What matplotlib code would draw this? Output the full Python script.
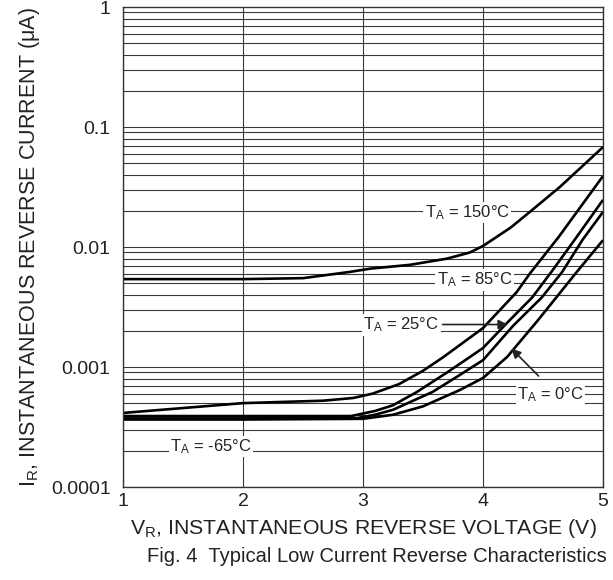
import matplotlib
matplotlib.use("Agg")
import matplotlib.pyplot as plt
import numpy as np

plt.rcParams['font.family'] = ['Liberation Sans', 'DejaVu Sans']
plt.rcParams['mathtext.fontset'] = 'custom'
plt.rcParams['mathtext.rm'] = 'Liberation Sans'
plt.rcParams['mathtext.it'] = 'Liberation Sans:italic'

# ---- data ----
v_150 = [1.0, 2.0, 2.5, 2.89, 3.06, 3.39, 3.7, 3.89, 4.0, 4.23, 4.39, 4.64, 5.0]
i_150 = [0.0054, 0.0054, 0.0055, 0.0062, 0.0066, 0.0071, 0.0080, 0.0090, 0.0102, 0.0145, 0.0196, 0.0316, 0.068]

v_85 = [1.0, 2.0, 2.67, 2.92, 3.08, 3.3, 3.5, 3.67, 4.0, 4.28, 4.39, 4.63, 5.0]
i_85 = [0.000414, 0.00050, 0.000524, 0.000552, 0.000600, 0.00072, 0.00093, 0.00121, 0.00211, 0.00420, 0.0060, 0.0121, 0.039]

v_25 = [1.0, 2.0, 2.9, 3.1, 3.25, 3.45, 3.7, 3.89, 4.0, 4.2, 4.41, 4.58, 4.78, 5.0]
i_25 = [0.00039, 0.00039, 0.00039, 0.00043, 0.00048, 0.00062, 0.00090, 0.00121, 0.00144, 0.00233, 0.00380, 0.0064, 0.0121, 0.0247]

v_0 = [1.0, 2.0, 2.95, 3.1, 3.25, 3.58, 3.8, 4.0, 4.25, 4.49, 4.66, 4.83, 5.0]
i_0 = [0.000373, 0.000373, 0.000375, 0.00040, 0.00044, 0.00062, 0.00085, 0.00114, 0.00220, 0.00380, 0.0062, 0.0115, 0.0196]

v_m65 = [1.0, 2.0, 3.0, 3.25, 3.5, 3.81, 4.0, 4.2, 4.45, 4.62, 4.77, 5.0]
i_m65 = [0.000365, 0.000365, 0.00037, 0.000400, 0.00047, 0.000645, 0.00081, 0.00121, 0.0024, 0.0039, 0.0060, 0.0114]

x_ticks = [1, 2, 3, 4, 5]
y_ticks = [0.0001, 0.001, 0.01, 0.1, 1]
y_tick_labels = ['0.0001', '0.001', '0.01', '0.1', '1']

fig = plt.figure(figsize=(6.13, 5.80), dpi=100)
ax = fig.add_axes([123/613, 93/580, 480/613, 480/580])
ax.set_yscale('log')
ax.set_xlim(1, 5)
ax.set_ylim(0.0001, 1)

# grid
grid_kw = dict(color='#3a3a3a', lw=0.8)
for xv in x_ticks:
    ax.axvline(xv, zorder=1, **grid_kw)
for dec in [0.0001, 0.001, 0.01, 0.1]:
    for k in range(1, 10):
        ax.axhline(dec * k, zorder=1, **grid_kw)

curve_kw = dict(color='black', lw=1.9, zorder=4, solid_capstyle='butt')
ax.plot(v_150, i_150, **curve_kw)
ax.plot(v_85, i_85, **curve_kw)
ax.plot(v_25, i_25, **curve_kw)
ax.plot(v_0, i_0, **curve_kw)
ax.plot(v_m65, i_m65, **curve_kw)

lab_kw = dict(fontsize=12, ha='center', va='center', zorder=5, color='#222222',
              bbox=dict(facecolor='white', edgecolor='none', pad=1.0))
ax.text(3.87, 0.0195, r'$\mathregular{T_A}$ = 150°C', **lab_kw)
ax.text(3.93, 0.0053, r'$\mathregular{T_A}$ = 85°C', **lab_kw)
ax.text(3.32, 0.00224, r'$\mathregular{T_A}$ = 25°C', **lab_kw)
ax.text(4.56, 0.00059, r'$\mathregular{T_A}$ = 0°C', **lab_kw)
ax.text(1.73, 0.000218, r'$\mathregular{T_A}$ = -65°C', **lab_kw)

ax.annotate('', xy=(4.23, 0.00226), xytext=(3.64, 0.00226),
            arrowprops=dict(arrowstyle='-|>', color='#222222', lw=1.2, mutation_scale=14), zorder=5)
ax.annotate('', xy=(4.22, 0.00148), xytext=(4.48, 0.00081),
            arrowprops=dict(arrowstyle='-|>', color='#222222', lw=1.2, mutation_scale=14), zorder=5)

for s in ax.spines.values():
    s.set_color('#333333')
    s.set_linewidth(1.0)
    s.set_zorder(6)

ax.set_xticks(x_ticks)
ax.set_xticklabels([str(t) for t in x_ticks])
ax.set_yticks(y_ticks)
ax.set_yticklabels(y_tick_labels)
ax.yaxis.set_minor_locator(matplotlib.ticker.NullLocator())
ax.tick_params(axis='both', length=0, labelsize=14, colors='#222222')
ax.tick_params(axis='y', pad=9)
ax.tick_params(axis='x', pad=4)

ax.set_xlabel(r'$\mathregular{V_R}$, INSTANTANEOUS REVERSE VOLTAGE (V)', fontsize=15.3, color='#222222', labelpad=5)
ax.set_ylabel(r'$\mathregular{I_R}$, INSTANTANEOUS REVERSE CURRENT (μA)', fontsize=15.5, color='#222222', labelpad=6)
fig.text(0.615, 0.04, 'Fig. 4  Typical Low Current Reverse Characteristics', fontsize=14.5,
         ha='center', va='center', color='#222222')

fig.savefig('out.png', dpi=100)
